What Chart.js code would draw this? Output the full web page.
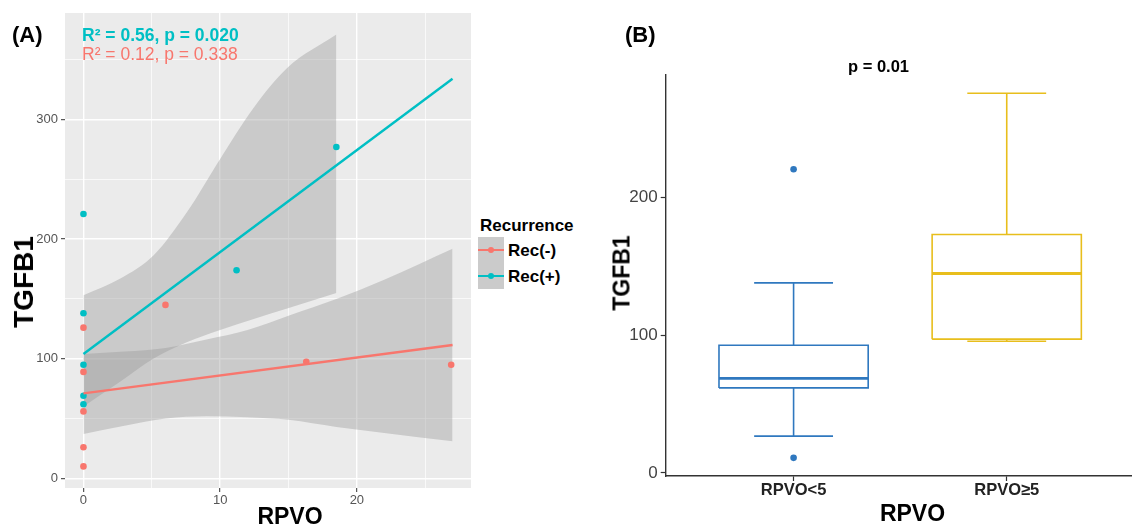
<!DOCTYPE html>
<html>
<head>
<meta charset="utf-8">
<script src="https://cdn.jsdelivr.net/npm/chart.js@4.4.1/dist/chart.umd.min.js"></script>
<style>
  body { margin: 0; width: 1135px; height: 527px; overflow: hidden; background: #fff; position: relative;
         font-family: "Liberation Sans", Arial, sans-serif; }
  canvas { position: absolute; top: 0; }
  #chartA { left: 0; }
  #chartB { left: 600px; }
  .t { position: absolute; white-space: nowrap; line-height: 1; color: #000; font-weight: bold; }
  .c { transform: translateX(-50%); }
  .rot { transform: translate(-50%, -50%) rotate(-90deg); }
  .key { position: absolute; }
</style>
</head>
<body>
<canvas id="chartA" width="475" height="527"></canvas>
<canvas id="chartB" width="535" height="527"></canvas>

<div class="t" style="left:12px; top:24px; font-size:22px;">(A)</div>
<div class="t" style="left:82px; top:27px; font-size:17.5px; color:#00BFC4;">R² = 0.56, p = 0.020</div>
<div class="t" style="left:82px; top:46px; font-size:17.5px; color:#F8766D; font-weight:normal;">R² = 0.12, p = 0.338</div>
<div class="t rot" style="left:23.5px; top:281.5px; font-size:28px;">TGFB1</div>
<div class="t c" style="left:290px; top:505px; font-size:23px;">RPVO</div>

<div class="t" style="left:480px; top:217px; font-size:17px;">Recurrence</div>
<div class="key" style="left:478px; top:237px; width:25.5px; height:51.5px; background:#CBCBCB;"></div>
<div class="key" style="left:478px; top:249px; width:25.5px; height:2px; background:#F8766D;"></div>
<div class="key" style="left:487.5px; top:247px; width:6px; height:6px; border-radius:3px; background:#F8766D;"></div>
<div class="key" style="left:478px; top:275px; width:25.5px; height:2px; background:#00BFC4;"></div>
<div class="key" style="left:487.5px; top:273px; width:6px; height:6px; border-radius:3px; background:#00BFC4;"></div>
<div class="t" style="left:508px; top:242px; font-size:17px;">Rec(-)</div>
<div class="t" style="left:508px; top:268px; font-size:17px;">Rec(+)</div>

<div class="t" style="left:625px; top:24px; font-size:22px;">(B)</div>
<div class="t c" style="left:878.5px; top:57.5px; font-size:16.5px;">p = 0.01</div>
<div class="t rot" style="left:621.7px; top:273px; font-size:23px;">TGFB1</div>
<div class="t c" style="left:912.5px; top:502px; font-size:23px;">RPVO</div>

<script>
// ---- panel A: TGFB1 vs RPVO by recurrence ----
var recNegX = [0, 0, 0, 0, 0, 6.0, 16.3, 26.9];
var recNegY = [126, 89, 56, 26, 10, 145, 97.5, 95];
var recPosX = [0, 0, 0, 0, 0, 11.2, 18.5];
var recPosY = [221, 138, 95, 69, 62, 174, 277];

// fitted lines (end points)
var fitX = [0, 27];
var recNegFit = [71, 111.5];
var recPosFit = [104, 334];

// confidence bands
var bandPosX = [0, 2.7, 5.1, 7.6, 10, 12.4, 14.9, 18.5];
var bandPosUpper = [153, 167, 186, 223, 267, 309, 343, 371];
var bandPosLower = [60, 81, 100, 114, 124, 133, 142, 155];
var bandNegX = [0, 3, 6, 9, 12, 15, 18.5, 22, 27];
var bandNegUpper = [104, 106, 109, 116, 124, 136, 150, 166, 192];
var bandNegLower = [37, 44, 50, 52, 51, 49, 43, 38, 31];

var xMajorA = [0, 10, 20];
var xMinorA = [5, 15, 25];
var yMajorA = [0, 100, 200, 300];
var yMinorA = [50, 150, 250, 350];

// ---- panel B: boxplots ----
var groups = ['RPVO<5', 'RPVO\u22655'];
var boxMin = [26.7, 95.6];
var boxQ1 = [61.7, 97.1];
var boxMedian = [68.6, 144.8];
var boxQ3 = [92.7, 173.1];
var boxMax = [138, 275.7];
var boxOutliers = [[220.5, 10.9], []];
var yTicksB = [0, 100, 200];

var teal = '#00BFC4', salmon = '#F8766D';
var ribbon = 'rgba(153,153,153,0.4)';
var boxColors = ['#2F78BF', '#E8BE1C'];
var none = 'rgba(0,0,0,0)';

Chart.defaults.font.family = '"Liberation Sans", Arial, sans-serif';

function pairs(xs, ys) {
  return xs.map(function (x, i) { return {x: x, y: ys[i]}; });
}

var panelBg = {
  id: 'panelBg',
  beforeDraw: function (chart, args, opts) {
    if (!opts.color) return;
    var a = chart.chartArea, ctx = chart.ctx;
    ctx.save();
    ctx.fillStyle = opts.color;
    ctx.fillRect(a.left, a.top, a.right - a.left, a.bottom - a.top);
    ctx.restore();
  }
};

function band(xs, ys, fill) {
  return {type: 'line', data: pairs(xs, ys), fill: fill, backgroundColor: ribbon,
          borderColor: none, borderWidth: 0, pointRadius: 0,
          cubicInterpolationMode: 'monotone', order: 3};
}

function ggGrid(major) {
  return {
    color: '#fff',
    lineWidth: function (c) { return major.indexOf(c.tick.value) >= 0 ? 1.4 : 0.7; },
    tickLength: 4,
    tickWidth: 1,
    tickColor: function (c) { return major.indexOf(c.tick.value) >= 0 ? '#333' : none; }
  };
}

new Chart(document.getElementById('chartA'), {
  type: 'scatter',
  plugins: [panelBg],
  data: {
    datasets: [
      band(bandPosX, bandPosUpper, '+1'),
      band(bandPosX, bandPosLower, false),
      band(bandNegX, bandNegUpper, '+1'),
      band(bandNegX, bandNegLower, false),
      {data: pairs(recNegX, recNegY), backgroundColor: salmon, borderColor: salmon, borderWidth: 0, pointRadius: 3.3, order: 2},
      {data: pairs(recPosX, recPosY), backgroundColor: teal, borderColor: teal, borderWidth: 0, pointRadius: 3.3, order: 2},
      {type: 'line', data: pairs(fitX, recNegFit), borderColor: salmon, borderWidth: 2.4, pointRadius: 0, fill: false, order: 1},
      {type: 'line', data: pairs(fitX, recPosFit), borderColor: teal, borderWidth: 2.4, pointRadius: 0, fill: false, order: 1}
    ]
  },
  options: {
    responsive: false,
    animation: false,
    layout: {padding: {top: 13, right: 4, left: 0, bottom: 0}},
    plugins: {legend: {display: false}, tooltip: {enabled: false}, panelBg: {color: '#EBEBEB'}},
    scales: {
      x: {
        type: 'linear', min: -1.35, max: 28.35,
        afterBuildTicks: function (ax) {
          ax.ticks = xMajorA.concat(xMinorA).sort(function (a, b) { return a - b; }).map(function (v) { return {value: v}; });
        },
        afterFit: function (ax) { ax.height = 39; },
        grid: ggGrid(xMajorA),
        border: {display: false},
        ticks: {autoSkip: false, maxRotation: 0, padding: 1, color: '#555', font: {size: 13},
                callback: function (v) { return xMajorA.indexOf(v) >= 0 ? String(v) : ''; }}
      },
      y: {
        type: 'linear', min: -8.05, max: 389,
        afterBuildTicks: function (ax) {
          ax.ticks = yMajorA.concat(yMinorA).sort(function (a, b) { return a - b; }).map(function (v) { return {value: v}; });
        },
        afterFit: function (ax) { ax.width = 65; },
        grid: ggGrid(yMajorA),
        border: {display: false},
        ticks: {autoSkip: false, padding: 3, color: '#555', font: {size: 13},
                callback: function (v) { return yMajorA.indexOf(v) >= 0 ? String(v) : ''; }}
      }
    }
  }
});

// boxplot pieces as line datasets on a linear x scale
var boxHalf = 0.35, capHalf = 0.185;
var dsB = [];
function seg(pts, color, width) {
  dsB.push({type: 'line', data: pts, borderColor: color, borderWidth: width, pointRadius: 0,
            fill: false, borderJoinStyle: 'miter', borderCapStyle: 'butt'});
}
groups.forEach(function (g, i) {
  var c = i + 1, col = boxColors[i];
  seg([{x: c - boxHalf, y: boxQ1[i]}, {x: c + boxHalf, y: boxQ1[i]}, {x: c + boxHalf, y: boxQ3[i]},
       {x: c - boxHalf, y: boxQ3[i]}, {x: c - boxHalf, y: boxQ1[i]}], col, 1.6);
  seg([{x: c - boxHalf, y: boxMedian[i]}, {x: c + boxHalf, y: boxMedian[i]}], col, 2.8);
  seg([{x: c, y: boxQ3[i]}, {x: c, y: boxMax[i]}], col, 1.6);
  seg([{x: c, y: boxQ1[i]}, {x: c, y: boxMin[i]}], col, 1.6);
  seg([{x: c - capHalf, y: boxMax[i]}, {x: c + capHalf, y: boxMax[i]}], col, 1.6);
  seg([{x: c - capHalf, y: boxMin[i]}, {x: c + capHalf, y: boxMin[i]}], col, 1.6);
  if (boxOutliers[i].length) {
    dsB.push({data: boxOutliers[i].map(function (v) { return {x: c, y: v}; }),
              backgroundColor: col, borderColor: col, borderWidth: 0, pointRadius: 3.3});
  }
});

new Chart(document.getElementById('chartB'), {
  type: 'scatter',
  data: {datasets: dsB},
  options: {
    responsive: false,
    animation: false,
    layout: {padding: {top: 75, right: 0, left: 0, bottom: 0}},
    plugins: {legend: {display: false}, tooltip: {enabled: false}},
    scales: {
      x: {
        type: 'linear', min: 0.4, max: 2.583,
        afterBuildTicks: function (ax) { ax.ticks = groups.map(function (g, i) { return {value: i + 1}; }); },
        afterFit: function (ax) { ax.height = 51; },
        grid: {drawOnChartArea: false, tickLength: 5, tickColor: '#333', tickWidth: 1.2},
        border: {display: true, color: '#333', width: 1.4},
        ticks: {autoSkip: false, maxRotation: 0, padding: 0, color: '#222', font: {size: 16.5, weight: 'bold'},
                callback: function (v) { return groups[v - 1]; }}
      },
      y: {
        type: 'linear', min: -2.3, max: 289,
        afterBuildTicks: function (ax) { ax.ticks = yTicksB.map(function (v) { return {value: v}; }); },
        afterFit: function (ax) { ax.width = 65.7; },
        grid: {drawOnChartArea: false, tickLength: 5, tickColor: '#333', tickWidth: 1.2},
        border: {display: true, color: '#333', width: 1.4},
        ticks: {padding: 3, color: '#444', font: {size: 17}}
      }
    }
  }
});
</script>
</body>
</html>
